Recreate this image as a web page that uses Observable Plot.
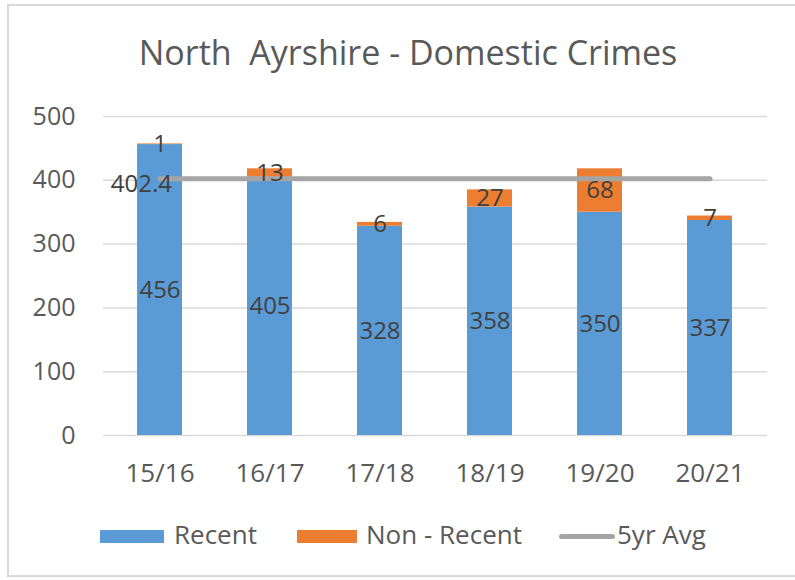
<!DOCTYPE html>
<html>
<head>
<meta charset="utf-8">
<script src="https://cdn.jsdelivr.net/npm/d3@7"></script>
<script src="https://cdn.jsdelivr.net/npm/@observablehq/plot@0.6"></script>
<style>
  html, body { margin: 0; padding: 0; background: #fff; }
  #wrap { position: relative; width: 795px; height: 580px; overflow: hidden; font-family: "Open Sans", sans-serif; }
  #frame { position: absolute; left: 7px; top: 4px; width: 800px; height: 573px; border: 2px solid #d9d9d9; box-sizing: border-box; }
  #title { position: absolute; left: 0; width: 816px; top: 32px; text-align: center; font-size: 34px; color: #595959; white-space: pre; line-height: 1.2; }
  #chart { position: absolute; left: 0; top: 90px; }
  .lg { position: absolute; font-size: 26px; color: #595959; line-height: 1; white-space: pre; }
  .sw { position: absolute; }
</style>
</head>
<body>
<div id="wrap">
  <div id="frame"></div>
  <div id="title"></div>
  <div id="chart"></div>
  <div id="legend"></div>
</div>
<script>
const titleText = "North  Ayrshire - Domestic Crimes";
const years = ["15/16", "16/17", "17/18", "18/19", "19/20", "20/21"];
const recent = [456, 405, 328, 358, 350, 337];
const nonRecent = [1, 13, 6, 27, 68, 7];
const avg5yr = [402.4, 402.4, 402.4, 402.4, 402.4, 402.4];
const seriesNames = ["Recent", "Non - Recent", "5yr Avg"];
const seriesColors = ["#5B9BD5", "#ED7D31", "#A5A5A5"];
const yTicks = [0, 100, 200, 300, 400, 500];

document.getElementById("title").textContent = titleText;

const rows = [];
years.forEach((y, i) => {
  rows.push({year: y, series: seriesNames[0], value: recent[i]});
  rows.push({year: y, series: seriesNames[1], value: nonRecent[i]});
});
const avgRows = years.map((y, i) => ({year: y, avg: avg5yr[i]}));

const chart = Plot.plot({
  width: 795,
  height: 410,
  marginTop: 26,
  marginBottom: 65,
  marginLeft: 103,
  marginRight: 28,
  style: {fontFamily: "Open Sans, sans-serif", fontSize: "25px", color: "#595959", background: "transparent"},
  x: {domain: years, paddingInner: 0.59, paddingOuter: 0.295, label: null},
  y: {domain: [0, 500], label: null},
  color: {domain: seriesNames, range: seriesColors},
  marks: [
    Plot.gridY(yTicks, {stroke: "#d9d9d9", strokeOpacity: 1, strokeWidth: 1.5}),
    Plot.axisY(yTicks, {tickSize: 0, tickPadding: 28, label: null, fontSize: 25}),
    Plot.axisX({tickSize: 0, tickPadding: 28, label: null, fontSize: 26}),
    Plot.barY(rows, {x: "year", y: "value", fill: "series", order: seriesNames.slice(0, 2)}),
    Plot.lineY(avgRows, {x: "year", y: "avg", stroke: seriesColors[2], strokeWidth: 5, strokeLinecap: "round"}),
    Plot.text(rows, Plot.stackY({x: "year", y: "value", z: "series", order: seriesNames.slice(0, 2), text: "value", fill: "#404040", fontSize: 24})),
    Plot.text(avgRows.slice(0, 1), {x: "year", y: "avg", text: d => String(d.avg), textAnchor: "end", dx: 12, dy: 6, fill: "#404040", fontSize: 24})
  ]
});
document.getElementById("chart").appendChild(chart);

// Legend
const legend = document.getElementById("legend");
const legendItems = [
  {swLeft: 100, swWidth: 64, swHeight: 13, textLeft: 174},
  {swLeft: 297, swWidth: 60, swHeight: 13, textLeft: 366},
  {swLeft: 559, swWidth: 56, swHeight: 5, textLeft: 617}
];
const legendCy = 536;
legendItems.forEach((it, i) => {
  const sw = document.createElement("div");
  sw.className = "sw";
  sw.style.left = it.swLeft + "px";
  sw.style.width = it.swWidth + "px";
  sw.style.height = it.swHeight + "px";
  sw.style.top = (legendCy - it.swHeight / 2) + "px";
  sw.style.background = seriesColors[i];
  if (i === 2) sw.style.borderRadius = "3px";
  legend.appendChild(sw);
  const t = document.createElement("div");
  t.className = "lg";
  t.style.left = it.textLeft + "px";
  t.style.top = (legendCy - 15) + "px";
  t.textContent = seriesNames[i];
  legend.appendChild(t);
});
</script>
</body>
</html>
